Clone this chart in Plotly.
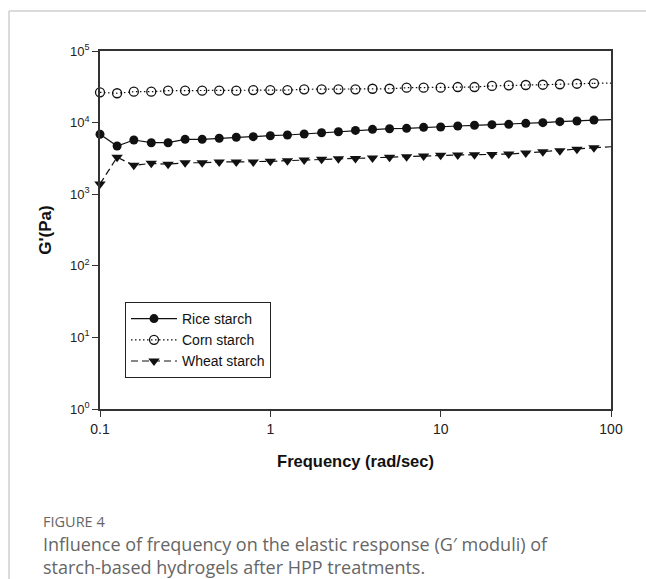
import plotly.graph_objects as go

# Frequency sweep points (rad/s): 30 points, 10 per decade from 0.1
freq = [0.1, 0.126, 0.158, 0.2, 0.251, 0.316, 0.398, 0.501, 0.631, 0.794,
        1.0, 1.26, 1.58, 2.0, 2.51, 3.16, 3.98, 5.01, 6.31, 7.94,
        10.0, 12.6, 15.8, 20.0, 25.1, 31.6, 39.8, 50.1, 63.1, 79.4]

rice = [6870, 4710, 5710, 5240, 5240, 5840, 5840, 6040, 6240, 6360,
        6560, 6710, 6930, 7220, 7450, 7780, 8060, 8220, 8320, 8590,
        8680, 8970, 9170, 9350, 9460, 9770, 9970, 10300, 10520, 10860]

corn = [26500, 25700, 27000, 27000, 27900, 27900, 27900, 27900, 27900, 28500,
        28500, 28500, 29200, 29200, 29200, 29200, 29700, 29700, 30700, 30700,
        30700, 31400, 31400, 32500, 33200, 33500, 33800, 34300, 34900, 35400]

wheat = [1390, 3280, 2530, 2700, 2620, 2750, 2750, 2820, 2820, 2820,
         2880, 2940, 3000, 3070, 3130, 3150, 3200, 3270, 3340, 3420,
         3490, 3540, 3560, 3590, 3640, 3760, 3920, 4050, 4240, 4460]

# Line values where each fitted line meets the right frame (x = 100)
edge_x = 100
rice_edge = 11000
corn_edge = 35600
wheat_edge = 4600

names = ["Rice starch", "Corn starch", "Wheat starch"]

x_tickvals = [0.1, 1, 10, 100]
x_ticktext = ["0.1", "1", "10", "100"]
y_tickvals = [1, 10, 100, 1000, 10000, 100000]
y_ticktext = ["10<sup>0</sup>", "10<sup>1</sup>", "10<sup>2</sup>",
              "10<sup>3</sup>", "10<sup>4</sup>", "10<sup>5</sup>"]

ink = "#111111"
fig = go.Figure()

series = [
    (names[0], rice, rice_edge, "solid", dict(symbol="circle", size=9, color=ink)),
    (names[1], corn, corn_edge, "1.5px,2.5px",
     dict(symbol="circle-open", size=9, color=ink, line=dict(width=1.3, color=ink))),
    (names[2], wheat, wheat_edge, "7px,4px",
     dict(symbol="triangle-down", size=10, color=ink)),
]

for name, vals, edge, dash, mk in series:
    fig.add_trace(go.Scatter(
        x=[freq[-1], edge_x], y=[vals[-1], edge], mode="lines",
        line=dict(color=ink, width=1.2, dash=dash), showlegend=False,
        hoverinfo="skip", cliponaxis=False))
    fig.add_trace(go.Scatter(
        x=freq, y=vals, mode="lines+markers", name=name,
        line=dict(color=ink, width=1.2, dash=dash), marker=mk,
        cliponaxis=False))

W, H = 646, 579
L, R, T, B = 100, 35, 51, 170
pw, ph = W - L - R, H - T - B


def px(x):
    return (x - L) / pw


def py(y):
    return (H - B - y) / ph


font_ax = "Liberation Sans, Arial, sans-serif"
cap_font = "Open Sans, Noto Sans, sans-serif"

fig.update_layout(
    width=W, height=H,
    margin=dict(l=L, r=R, t=T, b=B, autoexpand=False),
    paper_bgcolor="white", plot_bgcolor="white",
    showlegend=True,
    legend=dict(
        x=px(125), y=py(302), xanchor="left", yanchor="top",
        bordercolor="#222222", borderwidth=1, bgcolor="white",
        font=dict(family=font_ax, size=14, color=ink),
        tracegroupgap=0, itemwidth=46,
    ),
    xaxis=dict(
        type="log", range=[-1, 2], tickvals=x_tickvals, ticktext=x_ticktext,
        showgrid=False, zeroline=False,
        showline=True, linecolor="#333333", linewidth=1.5, mirror=True,
        ticks="outside", ticklen=6, tickwidth=1.3, tickcolor="#333333",
        tickfont=dict(family=font_ax, size=14, color="#222222"),
        title=dict(text="<b>Frequency (rad/sec)</b>", standoff=20,
                   font=dict(family=font_ax, size=16.5, color="#111111")),
    ),
    yaxis=dict(
        type="log", range=[0, 5], tickvals=y_tickvals, ticktext=y_ticktext,
        showgrid=False, zeroline=False,
        showline=True, linecolor="#333333", linewidth=1.5, mirror=True,
        ticks="outside", ticklen=6, tickwidth=1.3, tickcolor="#333333",
        tickfont=dict(family=font_ax, size=13, color="#222222"),
        title=dict(text="<b>G'(Pa)</b>", standoff=14,
                   font=dict(family=font_ax, size=17, color="#111111")),
    ),
    shapes=[
        dict(type="line", xref="paper", yref="paper",
             x0=px(9), x1=px(W + 5), y0=py(11), y1=py(11),
             line=dict(color="#cfcfcf", width=1.5)),
        dict(type="line", xref="paper", yref="paper",
             x0=px(9), x1=px(9), y0=py(11), y1=py(H + 5),
             line=dict(color="#cfcfcf", width=1.5)),
    ],
    annotations=[
        dict(text="FIGURE 4", xref="paper", yref="paper", x=px(41), y=py(521),
             xanchor="left", yanchor="middle", showarrow=False,
             font=dict(family=cap_font, size=14.5, color="#666666")),
        dict(text="Influence of frequency on the elastic response (G\u2032 moduli) of",
             xref="paper", yref="paper", x=px(41), y=py(544),
             xanchor="left", yanchor="middle", showarrow=False,
             font=dict(family=cap_font, size=18, color="#666666")),
        dict(text="starch-based hydrogels after HPP treatments.",
             xref="paper", yref="paper", x=px(41), y=py(567),
             xanchor="left", yanchor="middle", showarrow=False,
             font=dict(family=cap_font, size=18, color="#666666")),
    ],
)

fig.write_html("out.html")
